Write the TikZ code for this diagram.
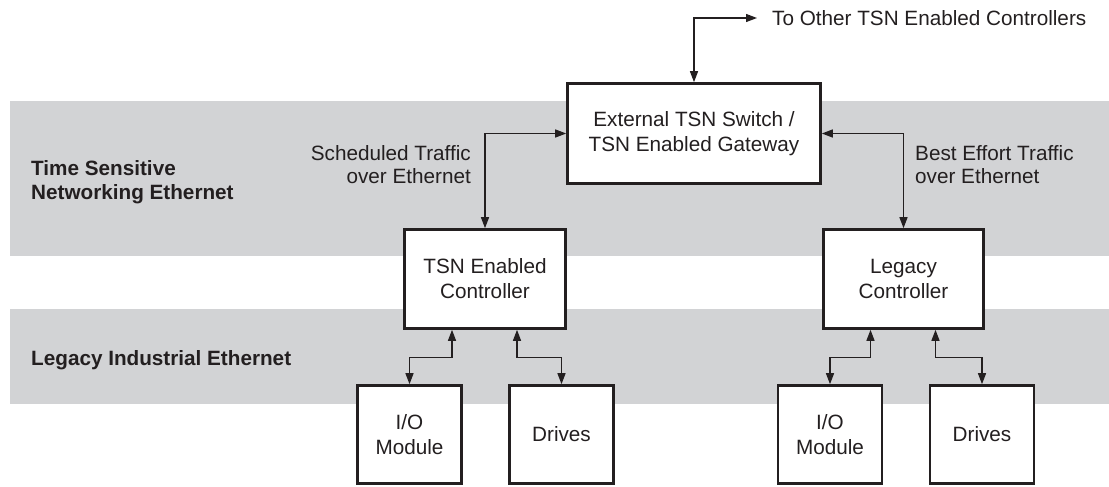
\documentclass[tikz,border=0pt]{standalone}
\usepackage{fontspec}
\setmainfont{Liberation Sans}
\usetikzlibrary{arrows.meta}
\definecolor{bandgray}{RGB}{210,211,213}
\definecolor{ink}{RGB}{35,31,32}
\begin{document}
\begin{tikzpicture}[x=1pt,y=-1pt,
  lbl/.style={inner sep=0pt, text=ink, font=\fontsize{20.7}{25}\selectfont},
  boldlbl/.style={lbl, font=\fontsize{20.7}{25}\selectfont\bfseries},
  blk/.style={draw=ink, line width=2.6pt, fill=white, inner sep=0pt, align=center,
     text=ink, font=\fontsize{20.7}{25}\selectfont},
  conn/.style={draw=ink, line width=1.3pt, {Triangle[length=11pt,width=8pt]}-{Triangle[length=11pt,width=8pt]}}
]
\useasboundingbox (0,0) rectangle (1109,487);
% bands
\fill[bandgray] (10,101) rectangle (1109,256);
\fill[bandgray] (10,309) rectangle (1109,404);
% band labels
\node[boldlbl, anchor=base west] (tsA) at (31,175) {Time Sensitive};
\node[boldlbl, anchor=base west] (tsB) at (31,199) {Networking Ethernet};
\node[boldlbl, anchor=base west] (lie) at (31,365) {Legacy Industrial Ethernet};
% boxes
\node[blk, minimum width=253pt, minimum height=100pt] (sw) at (694,133.5) {External TSN Switch /\\TSN Enabled Gateway};
\node[blk, minimum width=161pt, minimum height=99pt] (tsn) at (485,279) {TSN Enabled\\Controller};
\node[blk, minimum width=160pt, minimum height=99pt] (leg) at (903.5,279) {Legacy\\Controller};
\node[blk, minimum width=104pt, minimum height=98pt] (io1) at (409.5,434.5) {I/O\\Module};
\node[blk, minimum width=104pt, minimum height=98pt] (dr1) at (561.5,434.5) {Drives};
\node[blk, minimum width=104pt, minimum height=98pt] (io2) at (830,434.5) {I/O\\Module};
\node[blk, minimum width=104pt, minimum height=98pt] (dr2) at (982,434.5) {Drives};
% traffic labels
\node[lbl, anchor=base east] (schA) at (471,160) {Scheduled Traffic};
\node[lbl, anchor=base east] (schB) at (471,183) {over Ethernet};
\node[lbl, anchor=base west] (beA) at (915,160) {Best Effort Traffic};
\node[lbl, anchor=base west] (beB) at (915,183) {over Ethernet};
\node[lbl, anchor=base west] (other) at (772,26) {To Other TSN Enabled Controllers};
\coordinate (tend) at (757,18);
% connectors
\draw[conn] (sw.north) |- (tend);
\draw[conn] (sw.west) -| (tsn.north);
\draw[conn] (sw.east) -| (leg.north);
\draw[conn] ([xshift=-33pt]tsn.south) -- ++(0,28) -| (io1.north);
\draw[conn] ([xshift=32pt]tsn.south) -- ++(0,28) -| (dr1.north);
\draw[conn] ([xshift=-33pt]leg.south) -- ++(0,28) -| (io2.north);
\draw[conn] ([xshift=32pt]leg.south) -- ++(0,28) -| (dr2.north);
\end{tikzpicture}
\end{document}
